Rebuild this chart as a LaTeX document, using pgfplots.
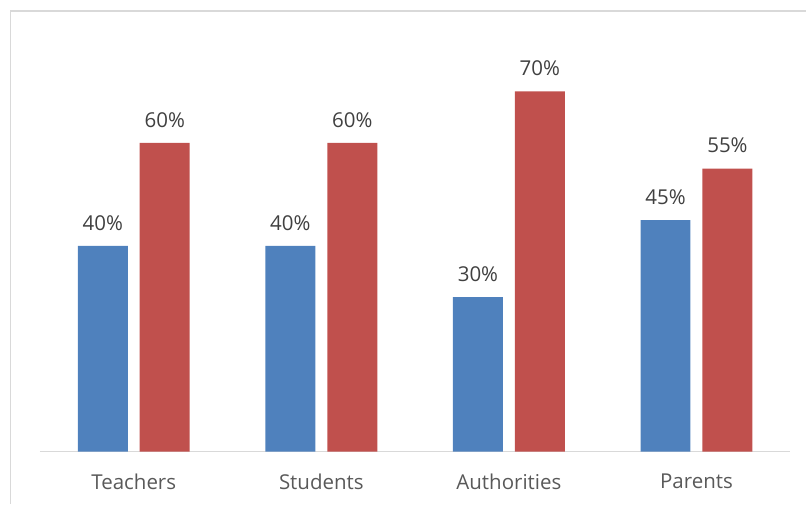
\documentclass[border=0pt]{standalone}
\usepackage{fontspec}
\setmainfont{Open Sans}
\usepackage{pgfplots}
\pgfplotsset{compat=1.18}
\definecolor{xblue}{HTML}{4F81BD}
\definecolor{xred}{HTML}{C0504D}
\definecolor{tick}{HTML}{595959}
\definecolor{lab}{HTML}{404040}
\definecolor{grid}{HTML}{D9D9D9}
\begin{document}
\begin{tikzpicture}
\begin{axis}[
  at={(0pt,0pt)}, anchor=south west,
  scale only axis, width=751pt, height=412pt,
  xmin=-0.5, xmax=3.5, ymin=0, ymax=80,
  axis y line=none, axis x line*=bottom,
  x axis line style={draw=grid, line width=1.5pt, -},
  xtick=data, xticklabels={Teachers,Students,Authorities,Parents},
  major tick length=0pt,
  xticklabel style={font=\fontsize{20.5}{22}\selectfont, text=tick, yshift=-19pt},
  ybar=12pt, bar width=50pt,
  /pgf/number format/assume math mode=true,
  nodes near coords={\pgfmathprintnumber{\pgfplotspointmeta}\%},
  every node near coord/.append style={font=\fontsize{20.5}{22}\selectfont, text=lab, yshift=12pt},
  clip=false,
]
\addplot[fill=xblue, draw=none] coordinates {(0,40) (1,40) (2,30) (3,45)};
\addplot[fill=xred, draw=none] coordinates {(0,60) (1,60) (2,70) (3,55)};
\end{axis}
\draw[draw=grid, line width=1.5pt] (-29.5pt,-52pt) -- (-29.5pt,441pt) -- (767pt,441pt);
\path[use as bounding box] (-40pt,-52pt) rectangle (767pt,452pt);
\end{tikzpicture}
\end{document}
